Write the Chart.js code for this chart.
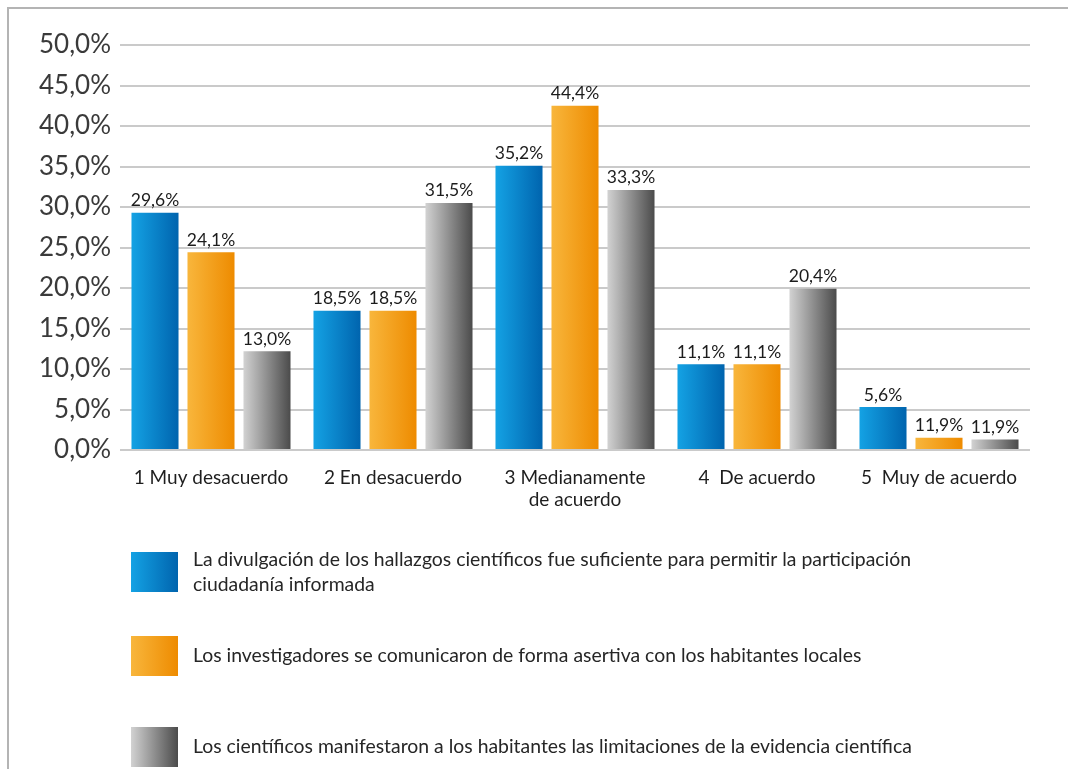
<!DOCTYPE html>
<html>
<head>
<meta charset="utf-8">
<script src="https://cdn.jsdelivr.net/npm/chart.js@4.4.1/dist/chart.umd.min.js"></script>
<style>
body { margin: 0; background: #fff; }
#wrap { position: relative; width: 1068px; height: 769px; overflow: hidden; background: #fff; }
#marco { position: absolute; left: 7px; top: 7px; width: 1090px; height: 790px; border: 2px solid #b4b4b4; box-sizing: border-box; }
canvas { position: absolute; left: 0; top: 0; }
</style>
</head>
<body>
<div id="wrap">
  <div id="marco"></div>
  <canvas id="chart" width="1068" height="769"></canvas>
</div>
<script>
// categorias del eje x
const categorias = ['1 Muy desacuerdo', '2 En desacuerdo', ['3 Medianamente', 'de acuerdo'], '4  De acuerdo', '5  Muy de acuerdo'];

// alto de cada barra (%)
const divulgacion = [29.3, 17.2, 35.1, 10.6, 5.3];
const investigadores = [24.4, 17.2, 42.5, 10.6, 1.5];
const cientificos = [12.2, 30.5, 32.1, 19.9, 1.3];

// textos que aparecen encima de cada barra
const etiquetasDivulgacion = ['29,6%', '18,5%', '35,2%', '11,1%', '5,6%'];
const etiquetasInvestigadores = ['24,1%', '18,5%', '44,4%', '11,1%', '11,9%'];
const etiquetasCientificos = ['13,0%', '31,5%', '33,3%', '20,4%', '11,9%'];

// leyenda
const nombresSeries = [
  ['La divulgación de los hallazgos científicos fue suficiente para permitir la participación', 'ciudadanía informada'],
  ['Los investigadores se comunicaron de forma asertiva con los habitantes locales'],
  ['Los científicos manifestaron a los habitantes las limitaciones de la evidencia científica']
];

const FUENTE = 'Lato, "Liberation Sans", sans-serif';
const degradados = [
  ['#14a2e4', '#0064ae'],
  ['#f8b63c', '#ee8b00'],
  ['#d2d2d2', '#4b4b4b']
];
const etiquetas = [etiquetasDivulgacion, etiquetasInvestigadores, etiquetasCientificos];

function degradado(ctx, x0, x1, i) {
  let g = ctx.createLinearGradient(x0, 0, x1, 0);
  g.addColorStop(0, degradados[i][0]);
  g.addColorStop(1, degradados[i][1]);
  return g;
}

// pinta cada barra con su propio degradado horizontal
// (las opciones son compartidas entre barras, asi que se copian)
const pluginDegradado = {
  id: 'degradado',
  beforeDatasetsDraw(chart) {
    chart.data.datasets.forEach((ds, i) => {
      chart.getDatasetMeta(i).data.forEach(el => {
        let g = degradado(chart.ctx, el.x - el.width / 2, el.x + el.width / 2, i);
        el.options = Object.assign({}, el.options, { backgroundColor: g });
      });
    });
  }
};

// valores encima de las barras
const pluginEtiquetas = {
  id: 'etiquetas',
  afterDatasetsDraw(chart) {
    let ctx = chart.ctx;
    ctx.save();
    ctx.font = '17.5px ' + FUENTE;
    ctx.fillStyle = '#1c1c1c';
    ctx.textAlign = 'center';
    ctx.textBaseline = 'alphabetic';
    chart.data.datasets.forEach((ds, i) => {
      chart.getDatasetMeta(i).data.forEach((el, j) => {
        ctx.fillText(etiquetas[i][j], el.x, el.y - 6.5);
      });
    });
    ctx.restore();
  }
};

// leyenda vertical debajo del grafico
const pluginLeyenda = {
  id: 'leyendaVertical',
  afterDraw(chart) {
    let ctx = chart.ctx;
    let tops = [552, 636, 727];
    ctx.save();
    ctx.font = '19.4px ' + FUENTE;
    ctx.textBaseline = 'middle';
    ctx.textAlign = 'left';
    chart.data.datasets.forEach((ds, i) => {
      let x = 131, y = tops[i];
      ctx.fillStyle = degradado(ctx, x, x + 47, i);
      ctx.fillRect(x, y, 47, 40);
      ctx.fillStyle = '#262626';
      let lineas = ds.label;
      let centro = y + 20 - (lineas.length - 1) * 12.5;
      lineas.forEach((t, k) => ctx.fillText(t, 193, centro + k * 25));
    });
    ctx.restore();
  }
};

new Chart(document.getElementById('chart'), {
  type: 'bar',
  data: {
    labels: categorias,
    datasets: [
      { label: nombresSeries[0], data: divulgacion, backgroundColor: degradados[0][1] },
      { label: nombresSeries[1], data: investigadores, backgroundColor: degradados[1][1] },
      { label: nombresSeries[2], data: cientificos, backgroundColor: degradados[2][1] }
    ]
  },
  options: {
    responsive: false,
    animation: false,
    devicePixelRatio: 1,
    categoryPercentage: 0.923,
    barPercentage: 0.84,
    layout: { padding: { top: 45, right: 38, bottom: 249, left: 0 } },
    plugins: {
      legend: { display: false },
      tooltip: { enabled: false }
    },
    scales: {
      x: {
        grid: { display: false },
        border: { display: false },
        ticks: { color: '#1e1e1e', padding: 8, font: { family: FUENTE, size: 19, lineHeight: 1.2 }, maxRotation: 0, autoSkip: false },
        afterFit(scale) { scale.height = 70; }
      },
      y: {
        min: 0,
        max: 50,
        grid: { color: '#cacaca', lineWidth: 2, drawTicks: false },
        border: { display: false },
        ticks: {
          stepSize: 5,
          color: '#3a3a3a',
          padding: 9,
          font: { family: FUENTE, size: 26 },
          callback: v => v.toFixed(1).replace('.', ',') + '%'
        },
        afterFit(scale) { scale.width = 120; }
      }
    }
  },
  plugins: [pluginDegradado, pluginEtiquetas, pluginLeyenda]
});
</script>
</body>
</html>
